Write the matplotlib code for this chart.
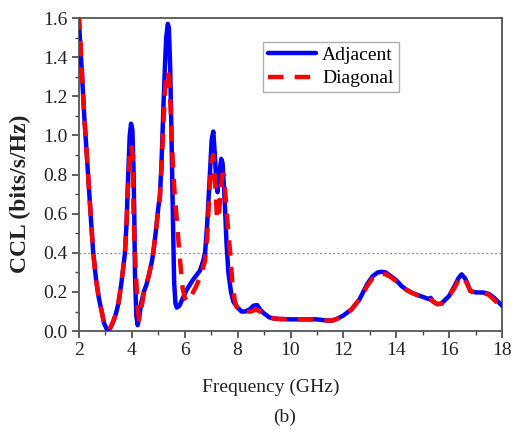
import matplotlib
matplotlib.use("Agg")
import matplotlib.pyplot as plt

# Adjacent (blue) readings
freq_adj = [2.00, 2.10, 2.20, 2.35, 2.45, 2.54, 2.65, 2.75, 2.86, 2.95, 3.05, 3.12, 3.20, 3.30,
            3.40, 3.49, 3.60, 3.68, 3.74, 3.80, 3.86, 3.92, 3.97, 4.02, 4.06, 4.09, 4.12, 4.17,
            4.22, 4.28, 4.35, 4.45, 4.56, 4.65, 4.75, 4.81, 4.90, 5.00, 5.06, 5.12, 5.19, 5.25,
            5.30, 5.36, 5.40, 5.45, 5.50, 5.55, 5.60, 5.65, 5.70, 5.80, 5.90, 6.07, 6.30, 6.58,
            6.70, 6.77, 6.85, 6.95, 7.02, 7.08, 7.14, 7.20, 7.24, 7.30, 7.38, 7.43, 7.50, 7.58,
            7.65, 7.75, 7.84, 8.00, 8.15, 8.28, 8.45, 8.60, 8.74, 8.85, 9.00, 9.20, 9.35, 9.60,
            10.0, 10.5, 11.0, 11.3, 11.56, 11.8, 12.0, 12.3, 12.6, 12.9, 13.1, 13.3, 13.45, 13.6,
            13.8, 14.0, 14.2, 14.4, 14.6, 14.8, 15.0, 15.2, 15.3, 15.4, 15.55, 15.7, 15.85, 16.0,
            16.2, 16.35, 16.47, 16.6, 16.7, 16.8, 17.0, 17.3, 17.5, 17.7, 17.85, 18.0]
ccl_adj = [1.58, 1.35, 1.10, 0.79, 0.58, 0.40, 0.26, 0.17, 0.10, 0.04, 0.01, 0.005, 0.02, 0.05,
           0.09, 0.14, 0.24, 0.33, 0.40, 0.55, 0.79, 1.00, 1.06, 1.03, 0.85, 0.62, 0.28, 0.08,
           0.03, 0.07, 0.14, 0.20, 0.24, 0.29, 0.35, 0.40, 0.50, 0.63, 0.69, 0.85, 1.13, 1.35,
           1.50, 1.57, 1.55, 1.35, 1.00, 0.60, 0.25, 0.14, 0.12, 0.13, 0.16, 0.21, 0.26, 0.31,
           0.36, 0.40, 0.55, 0.80, 0.98, 1.02, 0.90, 0.74, 0.71, 0.80, 0.88, 0.86, 0.70, 0.45,
           0.30, 0.20, 0.15, 0.12, 0.10, 0.10, 0.11, 0.13, 0.133, 0.11, 0.09, 0.07, 0.065, 0.062,
           0.06, 0.06, 0.06, 0.055, 0.053, 0.065, 0.08, 0.11, 0.16, 0.24, 0.28, 0.30, 0.303, 0.30,
           0.28, 0.26, 0.23, 0.21, 0.195, 0.185, 0.175, 0.165, 0.17, 0.15, 0.138, 0.14, 0.16, 0.18,
           0.23, 0.27, 0.29, 0.27, 0.24, 0.205, 0.198, 0.197, 0.19, 0.17, 0.15, 0.13]

# Diagonal (red) readings
freq_diag = [2.00, 2.10, 2.20, 2.35, 2.45, 2.54, 2.65, 2.75, 2.86, 2.95, 3.05, 3.12, 3.20, 3.30,
             3.40, 3.49, 3.60, 3.68, 3.74, 3.80, 3.86, 3.93, 3.98, 4.03, 4.06, 4.10, 4.16, 4.22,
             4.27, 4.33, 4.45, 4.56, 4.65, 4.75, 4.81, 4.90, 5.00, 5.06, 5.12, 5.19, 5.25, 5.30,
             5.36, 5.42, 5.48, 5.55, 5.62, 5.70, 5.78, 5.85, 5.92, 6.00, 6.10, 6.20, 6.40, 6.60,
             6.77, 6.85, 6.95, 7.03, 7.08, 7.15, 7.22, 7.28, 7.35, 7.42, 7.48, 7.55, 7.65, 7.72,
             7.80, 7.90, 8.00, 8.15, 8.30, 8.50, 8.70, 8.85, 9.00, 9.20, 9.35, 9.60, 10.0, 10.5,
             11.0, 11.3, 11.56, 11.8, 12.0, 12.3, 12.6, 12.9, 13.1, 13.3, 13.45, 13.6, 13.8, 14.0,
             14.2, 14.4, 14.6, 14.8, 15.0, 15.2, 15.3, 15.4, 15.55, 15.7, 15.85, 16.0, 16.2, 16.35,
             16.47, 16.6, 16.7, 16.8, 17.0, 17.3, 17.5, 17.7, 17.85, 18.0]
ccl_diag = [1.62, 1.36, 1.10, 0.79, 0.58, 0.40, 0.26, 0.17, 0.10, 0.04, 0.01, 0.005, 0.02, 0.05,
            0.09, 0.14, 0.24, 0.33, 0.40, 0.55, 0.76, 0.92, 0.95, 0.90, 0.62, 0.45, 0.28, 0.12,
            0.06, 0.09, 0.19, 0.24, 0.29, 0.35, 0.40, 0.50, 0.62, 0.68, 0.82, 1.05, 1.22, 1.30,
            1.33, 1.28, 1.10, 0.85, 0.70, 0.57, 0.43, 0.32, 0.22, 0.17, 0.15, 0.17, 0.22, 0.28,
            0.36, 0.48, 0.75, 0.88, 0.90, 0.75, 0.58, 0.57, 0.70, 0.80, 0.80, 0.68, 0.50, 0.40,
            0.25, 0.15, 0.11, 0.10, 0.10, 0.10, 0.11, 0.10, 0.085, 0.07, 0.065, 0.062, 0.06, 0.06,
            0.06, 0.055, 0.053, 0.065, 0.08, 0.11, 0.16, 0.23, 0.27, 0.29, 0.295, 0.29, 0.275, 0.255,
            0.23, 0.21, 0.195, 0.183, 0.172, 0.162, 0.16, 0.15, 0.138, 0.14, 0.16, 0.18, 0.22, 0.26,
            0.28, 0.26, 0.235, 0.205, 0.195, 0.195, 0.185, 0.16, 0.14, 0.11]

x_ticks = [2, 4, 6, 8, 10, 12, 14, 16, 18]
y_ticks = [0.0, 0.2, 0.4, 0.6, 0.8, 1.0, 1.2, 1.4, 1.6]

plt.rcParams['font.family'] = ['Liberation Serif', 'DejaVu Serif']

fig = plt.figure(figsize=(5.16, 4.30), dpi=100)
ax = fig.add_axes([0.153, 0.230, 0.820, 0.728])

ax.axhline(0.4, color='#888888', lw=0.9, ls=(0, (1.5, 2)), zorder=1)
ax.plot(freq_adj, ccl_adj, color='#0000ff', lw=3.2, label='Adjacent', zorder=3,
        solid_capstyle='round', solid_joinstyle='round')
ax.plot(freq_diag, ccl_diag, color='#ff0000', lw=3.2, ls=(0, (3.5, 2.5)), label='Diagonal', zorder=4)

ax.set_xlim(2, 18)
ax.set_ylim(0, 1.6)
ax.set_xticks(x_ticks)
ax.set_yticks(y_ticks)
ax.set_yticklabels([f"{v:.1f}" for v in y_ticks])
ax.set_xticks([3, 5, 7, 9, 11, 13, 15, 17], minor=True)
ax.set_yticks([0.1, 0.3, 0.5, 0.7, 0.9, 1.1, 1.3, 1.5], minor=True)
ax.tick_params(axis='both', which='major', direction='out', length=5, width=1.2,
               labelsize=14, color='#444444', labelcolor='#222222', pad=3)
ax.tick_params(axis='both', which='minor', direction='out', length=3, width=1.0, color='#444444')
for s in ax.spines.values():
    s.set_color('#555555')
    s.set_linewidth(1.3)

ax.set_xlabel('Frequency (GHz)', fontsize=14, color='#222222')
ax.xaxis.set_label_coords(0.454, -0.152)
ax.set_ylabel('CCL (bits/s/Hz)', fontsize=17, fontweight='bold', color='#222222')
ax.yaxis.set_label_coords(-0.113, 0.44)
fig.text(0.551, 0.03, '(b)', fontsize=14, ha='center', va='center', color='#222222')

leg = ax.legend(loc='upper left', bbox_to_anchor=(0.435, 0.925), fontsize=14,
                frameon=True, fancybox=False, edgecolor='#999999', handlelength=2.5,
                borderpad=0.25, labelspacing=0.3, handletextpad=0.3, borderaxespad=0)
leg.get_frame().set_linewidth(1.0)

fig.savefig('out.png', dpi=100)
